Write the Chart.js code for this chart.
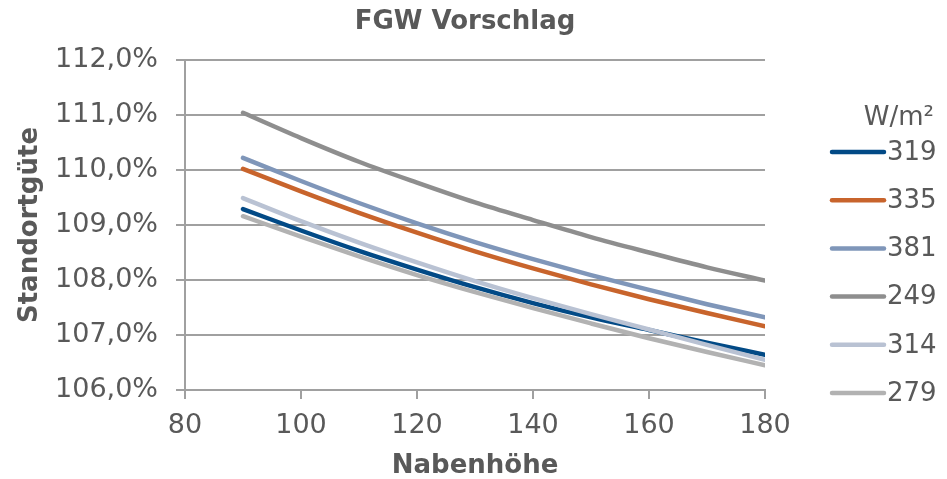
<!DOCTYPE html>
<html>
<head>
<meta charset="utf-8">
<script src="https://cdn.jsdelivr.net/npm/chart.js@4.4.1/dist/chart.umd.min.js"></script>
<style>
    body { margin: 0; background: #fff; }
</style>
</head>
<body>
<canvas id="line-chart" width="947" height="479"></canvas>
<script>
// Nabenhöhe (m)
const hubHeights = [90, 100, 110, 120, 130, 140, 150, 160, 170, 180];

// Standortgüte in % je W/m²
const s319 = [109.29, 108.90, 108.53, 108.19, 107.87, 107.58, 107.32, 107.09, 106.86, 106.64];
const s335 = [110.02, 109.61, 109.22, 108.86, 108.52, 108.21, 107.92, 107.65, 107.40, 107.16];
const s381 = [110.22, 109.80, 109.40, 109.03, 108.69, 108.38, 108.09, 107.82, 107.56, 107.32];
const s249 = [111.04, 110.58, 110.15, 109.77, 109.41, 109.09, 108.78, 108.50, 108.23, 107.99];
const s314 = [109.49, 109.07, 108.68, 108.32, 107.98, 107.67, 107.38, 107.10, 106.82, 106.55];
const s279 = [109.16, 108.79, 108.43, 108.09, 107.78, 107.49, 107.21, 106.94, 106.69, 106.45];

const seriesLabels = ['319', '335', '381', '249', '314', '279'];
const seriesValues = [s319, s335, s381, s249, s314, s279];
const seriesColors = ['#024a86', '#c8642c', '#7f96b9', '#8e8e8e', '#b9c2d3', '#b2b2b2'];

const xTicks = [80, 100, 120, 140, 160, 180];
const yTicks = [106, 107, 108, 109, 110, 111, 112];

const chartTitle = 'FGW Vorschlag';
const legendTitle = 'W/m²';

const textColor = '#595959';
const fontName = '"DejaVu Sans", Verdana, sans-serif';

// Titel und Legende wie im Excel-Diagramm
const sideLegend = {
    id: 'sideLegend',
    afterDraw(chart) {
        const ctx = chart.ctx;
        ctx.save();
        ctx.fillStyle = textColor;
        ctx.textBaseline = 'middle';

        ctx.font = 'bold 26px ' + fontName;
        ctx.textAlign = 'center';
        ctx.fillText(chartTitle, 465, 22);

        ctx.font = '26px ' + fontName;
        ctx.textAlign = 'right';
        ctx.fillText(legendTitle, 934, 118);
        chart.data.datasets.forEach((ds, i) => {
            const y = 152 + i * 48.2;
            ctx.strokeStyle = ds.borderColor;
            ctx.lineWidth = 4.5;
            ctx.lineCap = 'round';
            ctx.beginPath();
            ctx.moveTo(832, y);
            ctx.lineTo(884, y);
            ctx.stroke();
            ctx.textAlign = 'left';
            ctx.fillText(ds.label, 887, y + 1);
        });
        ctx.restore();
    }
};

function linechart() {
    new Chart(document.getElementById('line-chart'), {
        type: 'line',
        data: {
            datasets: seriesLabels.map((label, i) => {
                return {
                    label: label,
                    data: hubHeights.map((x, j) => ({ x: x, y: seriesValues[i][j] })),
                    borderColor: seriesColors[i],
                    backgroundColor: seriesColors[i],
                    borderWidth: 4.5,
                    borderCapStyle: 'round',
                    pointRadius: 0,
                    fill: false,
                    tension: 0.4,
                    cubicInterpolationMode: 'monotone',
                    order: seriesLabels.length - i
                }
            })
        },
        options: {
            responsive: false,
            animation: false,
            layout: {
                padding: { left: 0, right: 182, top: 60, bottom: 0 }
            },
            scales: {
                x: {
                    type: 'linear',
                    min: 80,
                    max: 180,
                    afterBuildTicks: (scale) => { scale.ticks = xTicks.map(v => ({ value: v })); },
                    afterFit: (scale) => { scale.height = 89; },
                    grid: {
                        drawOnChartArea: false,
                        drawTicks: true,
                        tickLength: 9,
                        color: '#a0a0a0',
                        lineWidth: 2
                    },
                    border: { display: true, color: '#a0a0a0', width: 2 },
                    ticks: {
                        color: textColor,
                        padding: 11,
                        maxRotation: 0,
                        font: { family: fontName, size: 27 }
                    },
                    title: {
                        display: true,
                        text: 'Nabenhöhe',
                        color: textColor,
                        padding: 0,
                        font: { family: fontName, size: 26, weight: 'bold', lineHeight: 1 }
                    }
                },
                y: {
                    min: 106,
                    max: 112,
                    afterBuildTicks: (scale) => { scale.ticks = yTicks.map(v => ({ value: v })); },
                    afterFit: (scale) => { scale.width = 185; },
                    grid: {
                        drawTicks: true,
                        tickLength: 9,
                        color: '#a0a0a0',
                        lineWidth: 2
                    },
                    border: { display: true, color: '#a0a0a0', width: 2 },
                    ticks: {
                        color: textColor,
                        padding: 18,
                        font: { family: fontName, size: 27 },
                        callback: (v) => v.toFixed(1).replace('.', ',') + '%'
                    },
                    title: {
                        display: true,
                        text: 'Standortgüte',
                        color: textColor,
                        padding: { top: 15, bottom: 0 },
                        font: { family: fontName, size: 26, weight: 'bold' }
                    }
                }
            },
            plugins: {
                legend: { display: false },
                tooltip: { enabled: false },
                title: { display: false }
            }
        },
        plugins: [sideLegend]
    });
}

linechart();
</script>
</body>
</html>
